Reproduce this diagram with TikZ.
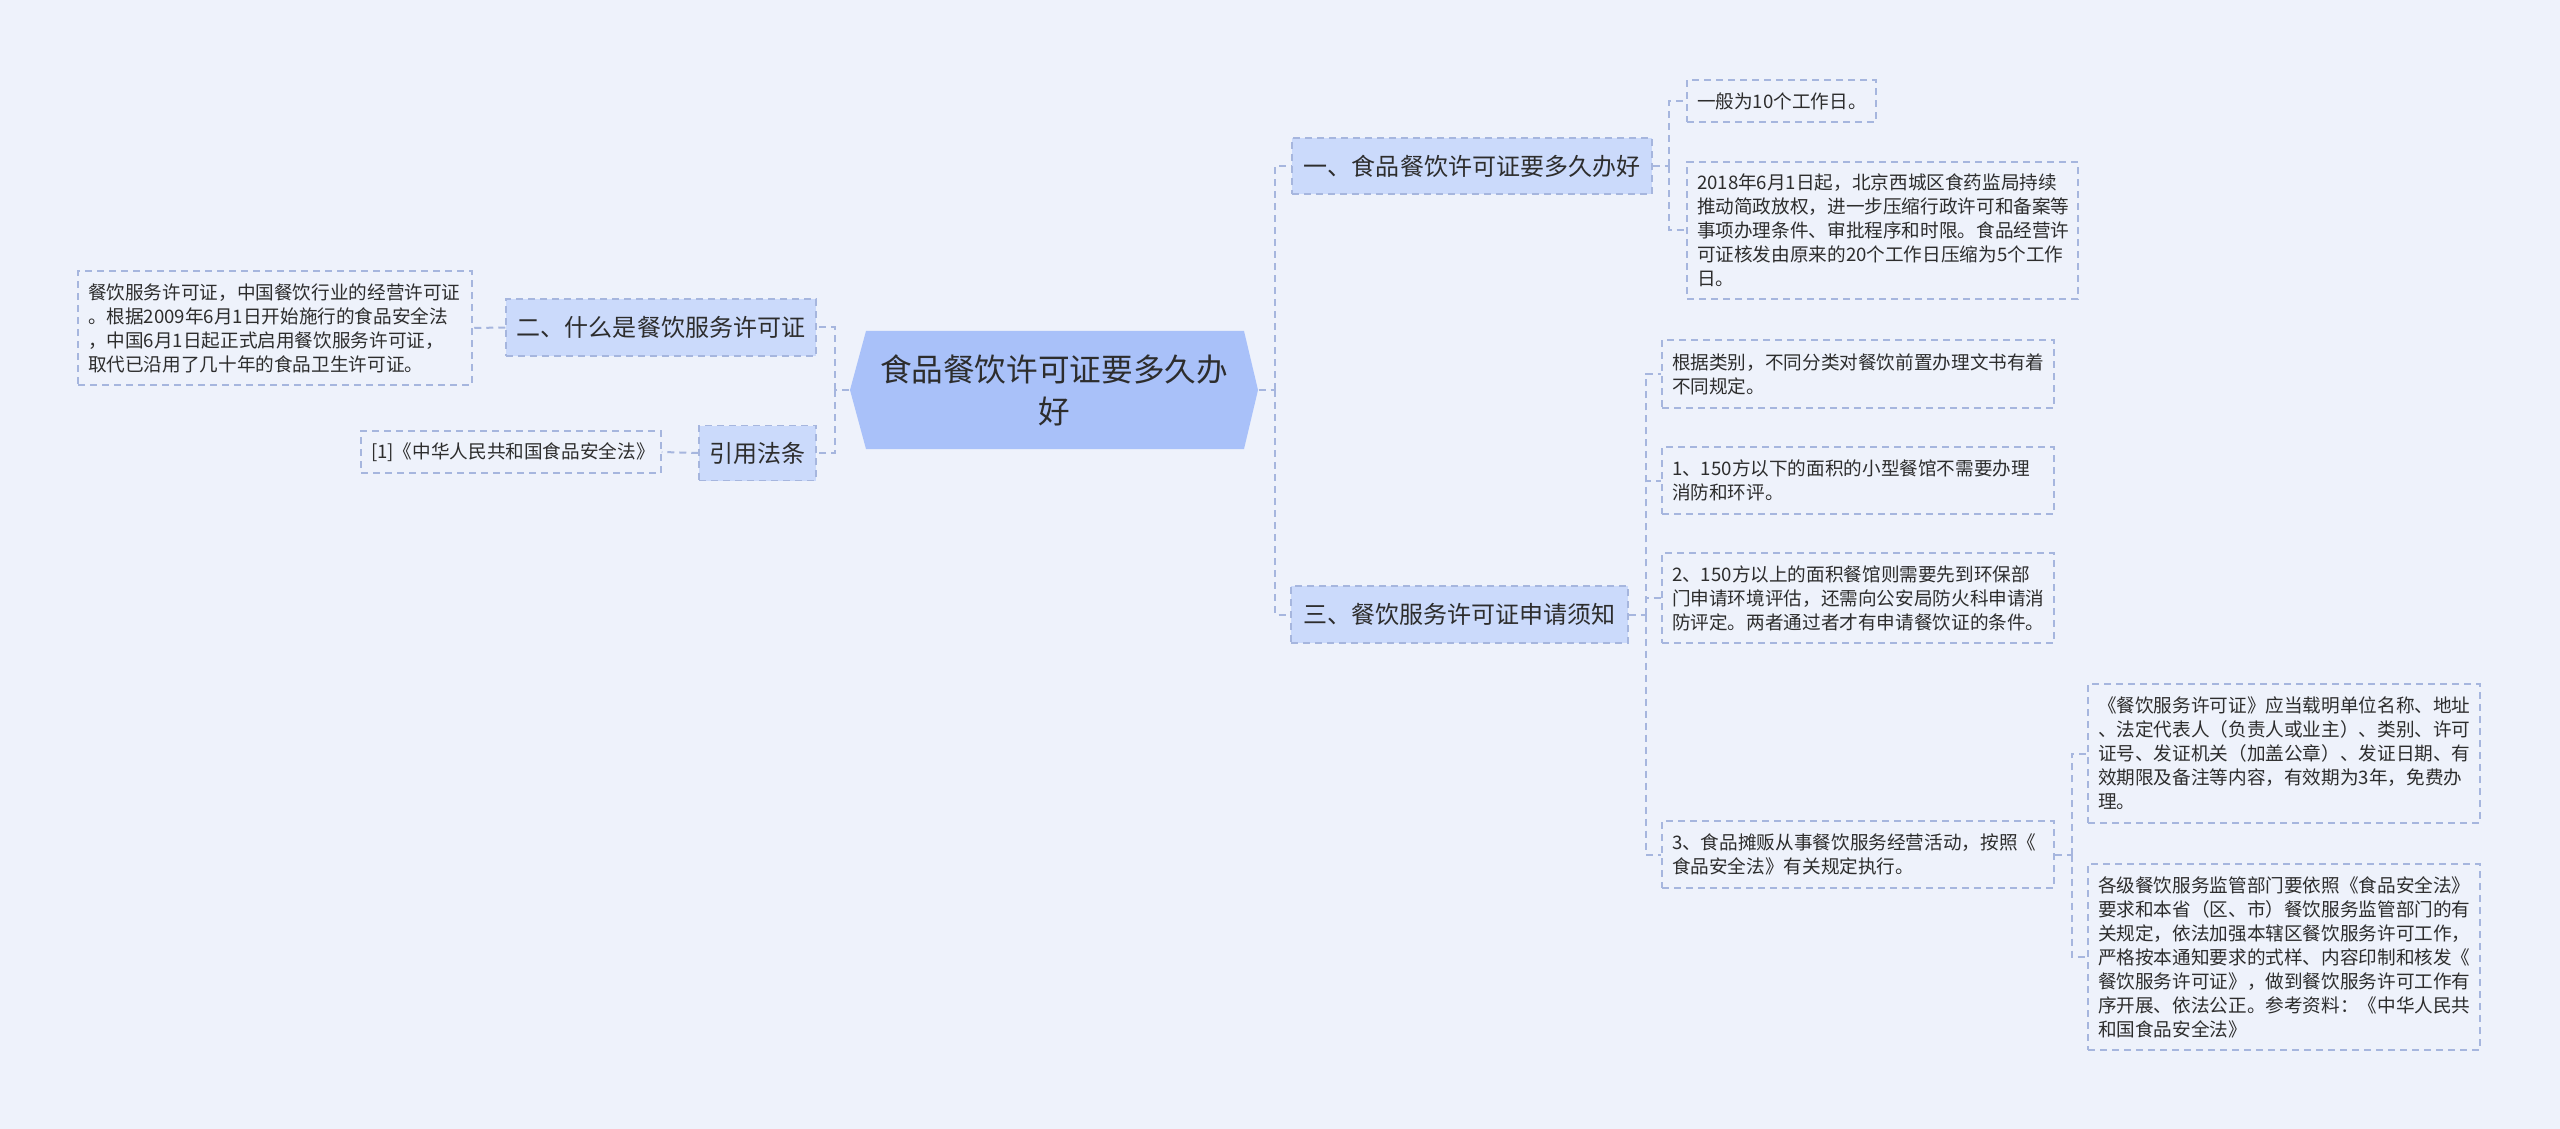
\documentclass[tikz,border=0pt]{standalone}
\usepackage{fontspec}
\setmainfont{Noto Sans CJK SC}

\begin{document}
\begin{tikzpicture}[x=1cm,y=-1cm,
  link/.style={draw=lineblue,line width=0.02cm,dash pattern=on 0.07cm off 0.05cm},
  leaf/.style={draw=lineblue,line width=0.015cm,dash pattern=on 0.07cm off 0.05cm,
    text=ink,align=left,inner xsep=0.1cm,inner ysep=0,
    font=\fontsize{5.3}{6.83}\selectfont},
  branch/.style={draw=lineblue,fill=branchblue,line width=0.015cm,
    dash pattern=on 0.07cm off 0.05cm,text=ink,inner sep=0,
    font=\fontsize{6.83}{8}\selectfont}]

\definecolor{paper}{RGB}{238,242,251};
\definecolor{rootblue}{RGB}{169,193,249};
\definecolor{branchblue}{RGB}{203,218,251};
\definecolor{lineblue}{RGB}{166,182,222};
\definecolor{ink}{RGB}{45,45,45};

\fill[paper] (0,0) rectangle (25.60,11.29);

% center
\fill[rootblue] (8.50,3.90) -- (8.66,3.31) -- (12.44,3.31) -- (12.58,3.90)
  -- (12.44,4.49) -- (8.66,4.49) -- cycle;
\node[text=ink,align=center,minimum width=4.08cm,minimum height=1.18cm,
  font=\fontsize{9}{11.95}\selectfont] (root) at (10.54,3.90)
  {食品餐饮许可证要多久办\\好};

\node[branch,minimum width=3.60cm,minimum height=0.56cm] (one) at (14.72,1.66)
  {一、食品餐饮许可证要多久办好};
\node[branch,minimum width=3.10cm,minimum height=0.57cm] (two) at (6.61,3.275)
  {二、什么是餐饮服务许可证};
\node[branch,minimum width=1.17cm,minimum height=0.55cm] (cite) at (7.575,4.53)
  {引用法条};
\node[branch,minimum width=3.37cm,minimum height=0.57cm] (three) at (14.595,6.145)
  {三、餐饮服务许可证申请须知};

% leaves
\node[leaf,text width=1.69cm,minimum height=0.42cm] (daysA) at (17.815,1.01)
  {一般为10个工作日。};
\node[leaf,text width=3.71cm,minimum height=1.37cm] (daysB) at (18.825,2.305)
  {2018年6月1日起，北京西城区食药监局持续\\
   推动简政放权，进一步压缩行政许可和备案等\\
   事项办理条件、审批程序和时限。食品经营许\\
   可证核发由原来的20个工作日压缩为5个工作\\
   日。};
\node[leaf,text width=3.74cm,minimum height=1.14cm] (what) at (2.75,3.28)
  {餐饮服务许可证，中国餐饮行业的经营许可证\\
   。根据2009年6月1日开始施行的食品安全法\\
   ，中国6月1日起正式启用餐饮服务许可证，\\
   取代已沿用了几十年的食品卫生许可证。};
\node[leaf,text width=2.80cm,minimum height=0.42cm] (law) at (5.11,4.52)
  {[1]《中华人民共和国食品安全法》};

\node[leaf,text width=3.72cm,minimum height=0.68cm] (kind) at (18.58,3.74)
  {根据类别，不同分类对餐饮前置办理文书有着\\
   不同规定。};
\node[leaf,text width=3.72cm,minimum height=0.67cm] (small) at (18.58,4.805)
  {1、150方以下的面积的小型餐馆不需要办理\\
   消防和环评。};
\node[leaf,text width=3.72cm,minimum height=0.90cm] (large) at (18.58,5.98)
  {2、150方以上的面积餐馆则需要先到环保部\\
   门申请环境评估，还需向公安局防火科申请消\\
   防评定。两者通过者才有申请餐饮证的条件。};
\node[leaf,text width=3.72cm,minimum height=0.67cm] (stall) at (18.58,8.545)
  {3、食品摊贩从事餐饮服务经营活动，按照《\\
   食品安全法》有关规定执行。};

\node[leaf,text width=3.72cm,minimum height=1.39cm] (content) at (22.84,7.535)
  {《餐饮服务许可证》应当载明单位名称、地址\\
   、法定代表人（负责人或业主）、类别、许可\\
   证号、发证机关（加盖公章）、发证日期、有\\
   效期限及备注等内容，有效期为3年，免费办\\
   理。};
\node[leaf,text width=3.72cm,minimum height=1.86cm] (duty) at (22.84,9.57)
  {各级餐饮服务监管部门要依照《食品安全法》\\
   要求和本省（区、市）餐饮服务监管部门的有\\
   关规定，依法加强本辖区餐饮服务许可工作，\\
   严格按本通知要求的式样、内容印制和核发《\\
   餐饮服务许可证》，做到餐饮服务许可工作有\\
   序开展、依法公正。参考资料：《中华人民共\\
   和国食品安全法》};

% joints
\coordinate (jr) at (12.75,3.90);
\coordinate (jl) at (8.35,3.90);
\coordinate (j1) at (16.69,1.66);
\coordinate (j3) at (16.46,6.145);
\coordinate (js) at (20.72,8.545);

\draw[link] (root.east) -- (jr);
\draw[link] (jr) |- (one.west);
\draw[link] (jr) |- (three.west);
\draw[link] (root.west) -- (jl);
\draw[link] (jl) |- (two.east);
\draw[link] (jl) |- (cite.east);
\draw[link] (two.west) -- (what.east);
\draw[link] (cite.west) -- (law.east);

\draw[link] (one.east) -- (j1);
\draw[link] (j1) |- (daysA.west);
\draw[link] (j1) |- (daysB.west);

\draw[link] (three.east) -- (j3);
\draw[link] (j3) |- (kind.west);
\draw[link] (j3) |- (small.west);
\draw[link] (j3) |- (large.west);
\draw[link] (j3) |- (stall.west);

\draw[link] (stall.east) -- (js);
\draw[link] (js) |- (content.west);
\draw[link] (js) |- (duty.west);

\end{tikzpicture}
\end{document}
